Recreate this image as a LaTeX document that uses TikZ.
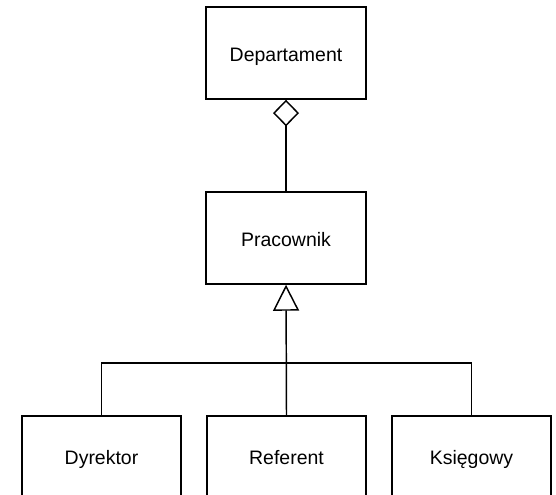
\documentclass[tikz,border=0pt]{standalone}
\usepackage{fontspec}
\setmainfont{Liberation Sans}
\usetikzlibrary{arrows.meta}
\begin{document}
\begin{tikzpicture}[x=0.75pt,y=-0.75pt,
  line width=1.1pt,
  cls/.style={draw, line width=1.1pt, inner sep=0pt,
    minimum width=120pt, minimum height=69pt,
    text height=13pt, text depth=0pt,
    font=\fontsize{14.6}{17}\selectfont},
  leaf/.style={cls, minimum width=119.25pt, minimum height=66pt,
    text depth=6.7pt},
  aggr/.style={-{Diamond[open,length=20pt,width=19.5pt,line width=1.1pt]}},
  gen/.style={-{Triangle[open,length=19.5pt,width=19.5pt,line width=1.1pt]}}]
\useasboundingbox (0,0) rectangle (556,495);
\clip (0,0) rectangle (556,495);

% classes
\node[cls] (dep) at (286,53) {Departament};
\node[cls] (prac) at (286,238) {Pracownik};
\node[leaf] (dyr) at (101.5,460) {Dyrektor};
\node[leaf] (ref) at (286.5,460) {Referent};
\node[leaf] (ksi) at (471.5,460) {Księgowy};

% aggregation
\draw[aggr] (prac.north) -- (dep.south);

% generalization tree
\coordinate (bus) at (286,363);
\draw (dyr.north) |- (bus) -| (ksi.north);
\draw[gen] (ref.north) -- (prac.south);
\end{tikzpicture}
\end{document}
